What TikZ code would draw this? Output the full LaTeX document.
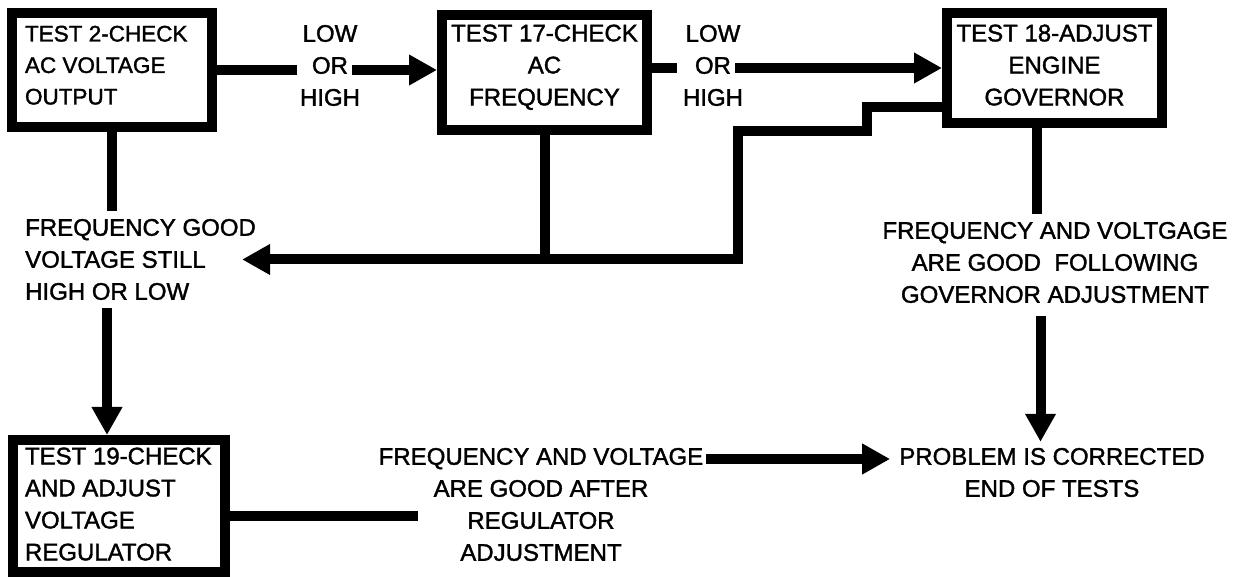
\documentclass[tikz,border=0pt]{standalone}
\usepackage{fontspec}
\setmainfont{Liberation Sans}[FakeBold=1.5]
\usetikzlibrary{arrows.meta,calc}
\newcommand\boxtxt[3]{\raisebox{#1}[0pt][0pt]{\begin{tabular}{@{}#2@{}}#3\end{tabular}}}
\begin{document}
\begin{tikzpicture}[x=1pt,y=-1pt,
  box/.style={draw, line width=10pt, rectangle, inner sep=0pt},
  lbl/.style={inner sep=0pt, align=center, font=\fontsize{24}{32}\selectfont},
  conn/.style={line width=10pt, line cap=butt, line join=miter},
  arr/.style={conn, -{Triangle[length=28pt,width=29pt]}}]
\fill[white] (0,0) rectangle (1235,577);
\useasboundingbox (0,0) rectangle (1235,577);

% boxes
\node[box, minimum width=200pt, minimum height=114pt, font=\fontsize{22.5}{31.5}\selectfont] (b1) at (112,70)
  {\makebox[174pt][l]{\boxtxt{-1.85pt}{l}{TEST 2-CHECK\\AC VOLTAGE\\OUTPUT}}};
\node[box, minimum width=205pt, minimum height=115pt, font=\fontsize{24}{32}\selectfont] (b2) at (544.5,72.5)
  {\boxtxt{-0.7pt}{c}{TEST 17-CHECK\\AC\\FREQUENCY}};
\node[box, minimum width=215pt, minimum height=110pt, font=\fontsize{24}{32}\selectfont] (b3) at (1054.5,68)
  {\boxtxt{-5.2pt}{c}{TEST 18-ADJUST\\ENGINE\\GOVERNOR}};
\node[box, minimum width=212pt, minimum height=132pt, font=\fontsize{24}{32}\selectfont] (b4) at (119,506)
  {\makebox[188pt][l]{\boxtxt{-6.2pt}{l}{TEST 19-CHECK\\AND ADJUST\\VOLTAGE\\REGULATOR}}};

% labels
\node[lbl] (lo1) at (330,65.5) {LOW\\OR\\HIGH};
\node[lbl] (lo2) at (713,65.5) {LOW\\OR\\HIGH};
\node[lbl, align=left, anchor=west] (fg) at (25,259.5) {FREQUENCY GOOD\\VOLTAGE STILL\\HIGH OR LOW};
\node[lbl] (fv) at (1055,262.5) {FREQUENCY AND VOLTGAGE\\ARE GOOD~ FOLLOWING\\GOVERNOR ADJUSTMENT};
\node[lbl] (pr) at (1052,472.5) {PROBLEM IS CORRECTED\\END OF TESTS};
\node[lbl] (fr) at (541,504.5) {FREQUENCY AND VOLTAGE\\ARE GOOD AFTER\\REGULATOR\\ADJUSTMENT};
\coordinate (regend) at (418,516);

% connectors
\draw[conn] (b1.east) -- ($(b1.east -| lo1.west)+(-3pt,0)$);
\draw[arr] ($(b1.east -| lo1.east)+(-8pt,0)$) -- (b2.west |- b1.east);
\draw[conn] (b2.east |- b3.west) -- ($(b3.west -| lo2.west)+(-6pt,0)$);
\draw[arr] ($(b3.west -| lo2.east)+(-8pt,0)$) -- (b3.west);
\draw[conn] (b1.south) -- ($(b1.south |- fg.north)+(0,8pt)$);
\draw[arr] ($(b1.south |- fg.south)+(-5pt,-8pt)$) -- ($(b4.north)+(-12pt,0)$);
\draw[conn] (b2.south) -- (b2.south |- fg.east);
\draw[arr] ([yshift=-39pt]b3.west) -- ++(-75,0) -- ++(0,24) -- ++(-129,0) |- ($(fg.east)+(-14pt,0)$);
\draw[conn] ($(b3.south)+(-17.5pt,0)$) -- ($(b3.south |- fv.north)+(-17.5pt,8pt)$);
\draw[arr] ($(b3.south |- fv.south)+(-14pt,-13pt)$) -- ($(b3.south |- pr.north)+(-14pt,6pt)$);
\draw[conn] (b4.east |- regend) -- (regend);
\draw[arr] ($(fr.east |- pr.west)+(3pt,13.5pt)$) -- ($(pr.west)+(-9pt,13.5pt)$);
\end{tikzpicture}
\end{document}
